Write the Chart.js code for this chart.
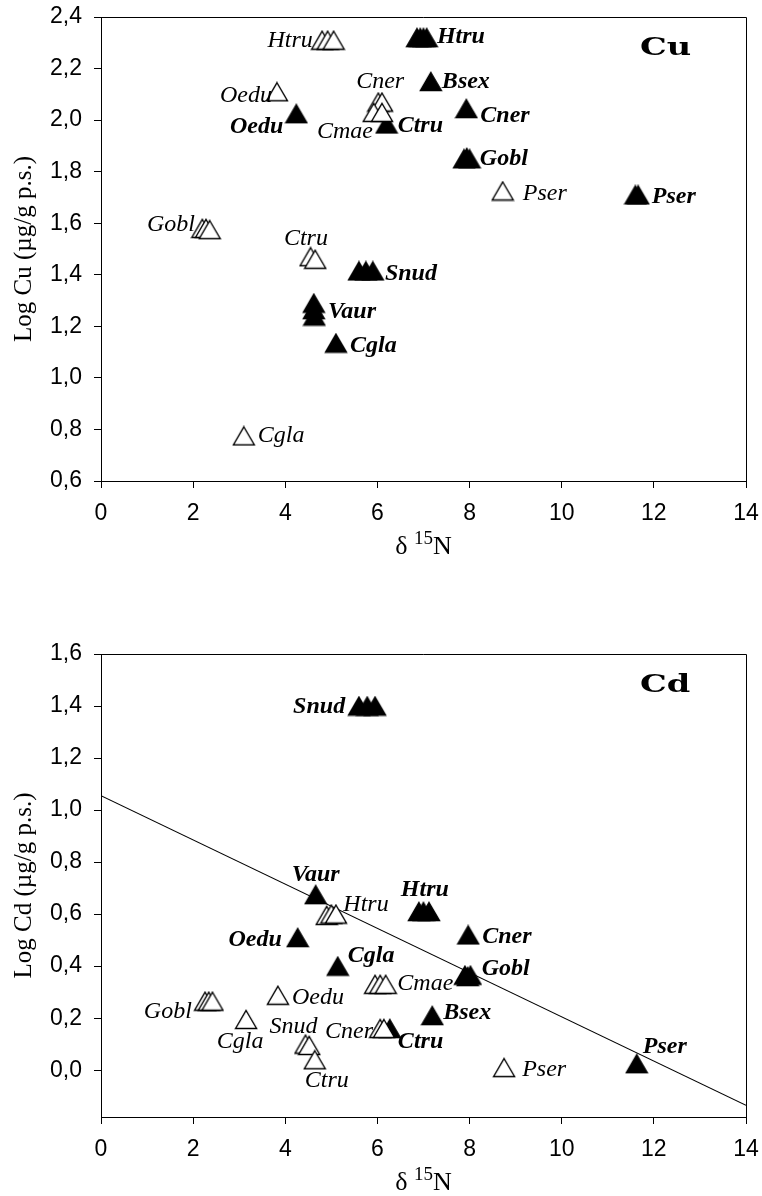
<!DOCTYPE html>
<html>
<head>
<meta charset="utf-8">
<script src="https://cdn.jsdelivr.net/npm/chart.js@4"></script>
<style>
  html, body { margin: 0; padding: 0; background: #fff; }
  #wrap { position: relative; width: 762px; height: 1196px; background: #fff; }
  canvas { position: absolute; left: 0; }
  #cuChart { top: 0; }
  #cdChart { top: 598px; }
</style>
</head>
<body>
<div id="wrap">
  <canvas id="cuChart" width="762" height="598"></canvas>
  <canvas id="cdChart" width="762" height="598"></canvas>
</div>
<script>
// Axis ticks
const xTicks = [0, 2, 4, 6, 8, 10, 12, 14];
const cuTicks = [0.6, 0.8, 1.0, 1.2, 1.4, 1.6, 1.8, 2.0, 2.2, 2.4];
const cdTicks = [0.0, 0.2, 0.4, 0.6, 0.8, 1.0, 1.2, 1.4, 1.6];

// Cu: open symbols (one entry per species, several specimens each)
const cuOpenSpecies = ['Htru', 'Oedu', 'Cner', 'Cmae', 'Gobl', 'Ctru', 'Cgla', 'Pser'];
const cuOpenX = [[4.8, 4.92, 5.05], [3.82], [6.02, 6.1], [5.92, 6.1], [2.2, 2.28, 2.36], [4.55, 4.65], [3.1], [8.72]];
const cuOpenY = [[2.31, 2.31, 2.31], [2.11], [2.07, 2.07], [2.03, 2.03], [1.58, 1.58, 1.575], [1.47, 1.46], [0.775], [1.725]];

// Cu: filled symbols
const cuFilledSpecies = ['Htru', 'Bsex', 'Oedu', 'Ctru', 'Cner', 'Gobl', 'Pser', 'Snud', 'Vaur', 'Cgla'];
const cuFilledX = [[6.86, 6.93, 7.0, 7.07], [7.16], [4.24], [6.2], [7.93], [7.88, 7.94, 8.0], [11.6, 11.66], [5.6, 5.75, 5.9], [4.62, 4.62, 4.63], [5.1]];
const cuFilledY = [[2.32, 2.32, 2.32, 2.32], [2.15], [2.025], [1.985], [2.045], [1.85, 1.855, 1.85], [1.71, 1.71], [1.415, 1.415, 1.415], [1.29, 1.265, 1.24], [1.135]];

// Cd: open symbols
const cdOpenSpecies = ['Htru', 'Cmae', 'Oedu', 'Gobl', 'Cgla', 'Cner', 'Snud', 'Ctru', 'Pser'];
const cdOpenX = [[4.9, 5.0, 5.1], [5.95, 6.06, 6.18], [3.84], [2.26, 2.34, 2.42], [3.15], [6.06, 6.14], [4.44, 4.52], [4.64], [8.75]];
const cdOpenY = [[0.595, 0.6, 0.6], [0.33, 0.33, 0.33], [0.288], [0.265, 0.265, 0.265], [0.195], [0.16, 0.16], [0.1, 0.095], [0.04], [0.01]];

// Cd: filled symbols
const cdFilledSpecies = ['Snud', 'Vaur', 'Htru', 'Oedu', 'Cgla', 'Cner', 'Gobl', 'Bsex', 'Ctru', 'Pser'];
const cdFilledX = [[5.6, 5.78, 5.95], [4.66], [6.9, 7.0, 7.12], [4.27], [5.14], [7.97], [7.9, 7.96, 8.02], [7.19], [6.27], [11.63]];
const cdFilledY = [[1.4, 1.4, 1.4], [0.675], [0.61, 0.61, 0.61], [0.51], [0.4], [0.52], [0.365, 0.36, 0.365], [0.21], [0.16], [0.025]];

// Cd regression line (end points over the x range)
const cdFitX = [0, 14];
const cdFitY = [1.055, -0.135];

// Label placement: pixel offsets from the centre of each species group
const cuLabelLayout = [
  ['open', 'Htru', 'right', -15, 7], ['filled', 'Htru', 'left', 15, 5],
  ['open', 'Oedu', 'right', -5, 10], ['filled', 'Oedu', 'right', -13, 19],
  ['open', 'Cner', 'center', 0, -14], ['open', 'Cmae', 'right', -5, 26],
  ['filled', 'Ctru', 'left', 11, 8], ['filled', 'Bsex', 'left', 11, 7],
  ['filled', 'Cner', 'left', 14, 13], ['filled', 'Gobl', 'left', 13, 7],
  ['open', 'Pser', 'left', 20, 9], ['filled', 'Pser', 'left', 15, 8],
  ['open', 'Gobl', 'right', -11, 2], ['open', 'Ctru', 'center', -7, -13],
  ['filled', 'Snud', 'left', 19, 9], ['filled', 'Vaur', 'left', 14, 8],
  ['filled', 'Cgla', 'left', 14, 9], ['open', 'Cgla', 'left', 14, 6]
];
const cdLabelLayout = [
  ['filled', 'Snud', 'right', -22, 7], ['filled', 'Vaur', 'center', 0, -14],
  ['open', 'Htru', 'left', 12, -4], ['filled', 'Htru', 'center', 1, -16],
  ['filled', 'Oedu', 'right', -16, 8], ['filled', 'Cgla', 'left', 10, -4],
  ['open', 'Cmae', 'left', 17, 6], ['filled', 'Cner', 'left', 14, 8],
  ['filled', 'Gobl', 'left', 14, -1], ['filled', 'Bsex', 'left', 11, 3],
  ['open', 'Oedu', 'left', 14, 9], ['open', 'Gobl', 'right', -17, 17],
  ['open', 'Cgla', 'center', -6, 29], ['open', 'Snud', 'center', -14, -12],
  ['open', 'Cner', 'right', -9, 9], ['filled', 'Ctru', 'left', 8, 19],
  ['open', 'Ctru', 'center', 12, 27], ['open', 'Pser', 'left', 18, 8],
  ['filled', 'Pser', 'left', 6, -11]
];

// Triangle markers drawn once and reused as point images
function makeTriangle(filled) {
  const c = document.createElement('canvas');
  c.width = 24; c.height = 21;
  const g = c.getContext('2d');
  g.beginPath();
  g.moveTo(12, 1.5);
  g.lineTo(22.5, 19.5);
  g.lineTo(1.5, 19.5);
  g.closePath();
  g.fillStyle = filled ? '#000' : '#fff';
  g.fill();
  g.lineWidth = 1.4;
  g.lineJoin = 'miter';
  g.strokeStyle = '#000';
  g.stroke();
  return c;
}
const openTri = makeTriangle(false);
const filledTri = makeTriangle(true);

function toPoints(xs, ys) {
  const pts = [];
  xs.forEach((row, i) => row.forEach((x, j) => pts.push({ x: x, y: ys[i][j] })));
  return pts;
}

const fmt = v => (Math.round(v * 10) / 10).toFixed(1).replace('.', ',');
const tickFont = { family: 'Liberation Sans, Arial, sans-serif', size: 23 };
const serif = '"Liberation Serif", "Times New Roman", serif';

function groupCentre(chart, xs, ys, i) {
  const sx = chart.scales.x, sy = chart.scales.y;
  let cx = 0, cy = 0;
  xs[i].forEach((x, j) => { cx += sx.getPixelForValue(x); cy += sy.getPixelForValue(ys[i][j]); });
  return [cx / xs[i].length, cy / xs[i].length];
}

function makeDecor(opts) {
  return {
    id: 'decor',
    afterDatasetsDraw(chart) {
      const ctx = chart.ctx, a = chart.chartArea;
      ctx.save();
      // frame
      ctx.strokeStyle = '#000';
      ctx.lineWidth = 1;
      ctx.beginPath();
      ctx.moveTo(a.left, a.top + 0.5);
      ctx.lineTo(a.right + 0.5, a.top + 0.5);
      ctx.lineTo(a.right + 0.5, a.bottom);
      ctx.stroke();

      // species labels
      ctx.fillStyle = '#000';
      ctx.textBaseline = 'alphabetic';
      opts.layout.forEach(([kind, sp, align, dx, dy]) => {
        const src = kind === 'open' ? opts.open : opts.filled;
        const i = src.species.indexOf(sp);
        const [cx, cy] = groupCentre(chart, src.x, src.y, i);
        ctx.font = (kind === 'open' ? 'italic ' : 'italic bold ') + '24px ' + serif;
        ctx.textAlign = align;
        ctx.fillText(sp, cx + dx, cy + dy);
      });

      // element symbol
      ctx.save();
      ctx.translate(a.right - 106, a.top + 38);
      ctx.scale(1.4, 1);
      ctx.font = 'bold 24px "DejaVu Serif", serif';
      ctx.textAlign = 'left';
      ctx.fillText(opts.symbol, 0, 0);
      ctx.restore();

      // y title
      ctx.save();
      ctx.translate(31, (a.top + a.bottom) / 2);
      ctx.rotate(-Math.PI / 2);
      ctx.font = '25px ' + serif;
      ctx.textAlign = 'center';
      ctx.fillText(opts.yTitle, 0, 0);
      ctx.restore();

      // x title: delta 15N with superscript
      const main = '26px ' + serif;
      const sup = '19px ' + serif;
      ctx.textAlign = 'left';
      ctx.font = main;
      const w1 = ctx.measureText('\u03B4 ').width;
      const w3 = ctx.measureText('N').width;
      ctx.font = sup;
      const w2 = ctx.measureText('15').width;
      const total = w1 + w2 + w3;
      const x0 = (a.left + a.right) / 2 - total / 2;
      const base = a.bottom + 73;
      ctx.font = main; ctx.fillText('\u03B4 ', x0, base);
      ctx.font = sup; ctx.fillText('15', x0 + w1, base - 10);
      ctx.font = main; ctx.fillText('N', x0 + w1 + w2, base);
      ctx.restore();
    }
  };
}

function buildChart(id, cfg) {
  const datasets = [];
  if (cfg.fit) {
    datasets.push({
      type: 'line',
      data: cfg.fit.x.map((x, i) => ({ x: x, y: cfg.fit.y[i] })),
      borderColor: '#000', borderWidth: 1.1, pointRadius: 0, fill: false, order: 10
    });
  }
  datasets.push({
    data: toPoints(cfg.filled.x, cfg.filled.y),
    pointStyle: filledTri, pointRadius: 10, order: 5
  });
  datasets.push({
    data: toPoints(cfg.open.x, cfg.open.y),
    pointStyle: openTri, pointRadius: 10, order: 1
  });
  const noPad = s => { s.paddingLeft = 0; s.paddingRight = 0; s.paddingTop = 0; s.paddingBottom = 0; };
  return new Chart(document.getElementById(id), {
    type: 'scatter',
    data: { datasets: datasets },
    options: {
      responsive: false,
      animation: false,
      events: [],
      layout: { padding: { top: cfg.padTop, right: 16, left: 0, bottom: 0 } },
      plugins: { legend: { display: false }, tooltip: { enabled: false } },
      scales: {
        x: {
          type: 'linear', min: 0, max: 14,
          afterBuildTicks: s => { s.ticks = xTicks.map(v => ({ value: v })); },
          afterFit: s => { s.height = cfg.xHeight; noPad(s); },
          ticks: { color: '#000', font: tickFont, padding: 12, maxRotation: 0, callback: v => String(v) },
          grid: { drawOnChartArea: false, color: '#000', tickLength: 7, lineWidth: 1 },
          border: { color: '#000', width: 1 }
        },
        y: {
          type: 'linear', min: cfg.yMin, max: cfg.yMax,
          afterBuildTicks: s => { s.ticks = cfg.yTicks.map(v => ({ value: v })); },
          afterFit: s => { s.width = 101; noPad(s); },
          ticks: { color: '#000', font: tickFont, padding: 12, callback: v => fmt(v) },
          grid: { drawOnChartArea: false, color: '#000', tickLength: 7, lineWidth: 1 },
          border: { color: '#000', width: 1 }
        }
      }
    },
    plugins: [makeDecor(cfg)]
  });
}

buildChart('cuChart', {
  padTop: 17, xHeight: 117, yMin: 0.6, yMax: 2.4, yTicks: cuTicks,
  open: { species: cuOpenSpecies, x: cuOpenX, y: cuOpenY },
  filled: { species: cuFilledSpecies, x: cuFilledX, y: cuFilledY },
  layout: cuLabelLayout, symbol: 'Cu', yTitle: 'Log Cu (\u00B5g/g p.s.)'
});

buildChart('cdChart', {
  padTop: 56, xHeight: 79, yMin: -0.18, yMax: 1.6, yTicks: cdTicks,
  open: { species: cdOpenSpecies, x: cdOpenX, y: cdOpenY },
  filled: { species: cdFilledSpecies, x: cdFilledX, y: cdFilledY },
  fit: { x: cdFitX, y: cdFitY },
  layout: cdLabelLayout, symbol: 'Cd', yTitle: 'Log Cd (\u00B5g/g p.s.)'
});
</script>
</body>
</html>
